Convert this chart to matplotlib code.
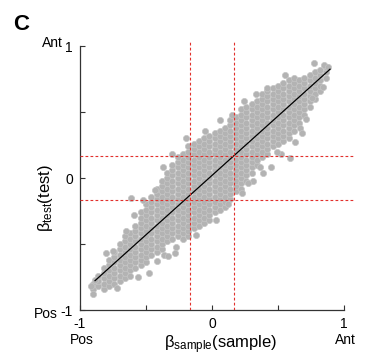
"""
Panel C: beta(test) vs beta(sample) scatter, with identity-ish fit line
and red threshold lines at +/- 0.17.
"""
import matplotlib
matplotlib.use("Agg")

import matplotlib.pyplot as plt
import numpy as np

plt.rcParams["font.family"] = ["Liberation Sans", "DejaVu Sans"]
plt.rcParams["mathtext.fontset"] = "custom"
plt.rcParams["mathtext.rm"] = "Liberation Sans"
plt.rcParams["mathtext.it"] = "Liberation Sans:italic"

# dense part of the cloud, read column by column (values in hundredths)
col_x = [-90, -86, -82, -78, -74, -70, -66, -62, -58, -54, -50, -46, -42,
         -38, -34, -30, -26, -22, -18, -14, -10, -6, -2, 2, 6, 10, 14, 18,
         22, 26, 30, 34, 38, 42, 46, 50, 54, 58, 62, 66, 70, 74, 78, 82, 86]
col_y = [
    [-84, -80],
    [-82, -78, -74],
    [-84, -80, -76, -72, -68],
    [-82, -78, -74, -70, -66, -62],
    [-80, -76, -72, -68, -64, -60, -56],
    [-78, -74, -70, -66, -62, -58, -54, -50],
    [-76, -72, -68, -64, -60, -56, -52, -48, -44],
    [-74, -70, -66, -62, -58, -54, -50, -46, -42],
    [-68, -64, -60, -56, -52, -48, -44, -40, -36],
    [-66, -62, -58, -54, -50, -46, -42, -38, -34, -30, -26],
    [-64, -60, -56, -52, -48, -44, -40, -36, -32, -28, -24, -20],
    [-58, -54, -50, -46, -42, -38, -34, -30, -26, -22, -18, -14],
    [-56, -52, -48, -44, -40, -36, -32, -28, -24, -20, -16, -12, -8],
    [-54, -50, -46, -42, -38, -34, -30, -26, -22, -18, -14, -10, -6, -2],
    [-48, -44, -40, -36, -32, -28, -24, -20, -16, -12, -8, -4, 0, 4],
    [-46, -42, -38, -34, -30, -26, -22, -18, -14, -10, -6, -2, 2, 6, 10],
    [-44, -40, -36, -32, -28, -24, -20, -16, -12, -8, -4, 0, 4, 8, 12, 16],
    [-46, -42, -38, -34, -30, -26, -22, -18, -14, -10, -6, -2, 2, 6, 10,
     14, 18],
    [-44, -40, -36, -32, -28, -24, -20, -16, -12, -8, -4, 0, 4, 8, 12, 16,
     20, 24],
    [-38, -34, -30, -26, -22, -18, -14, -10, -6, -2, 2, 6, 10, 14, 18, 22,
     26],
    [-36, -32, -28, -24, -20, -16, -12, -8, -4, 0, 4, 8, 12, 16, 20, 24, 28],
    [-34, -30, -26, -22, -18, -14, -10, -6, -2, 2, 6, 10, 14, 18, 22, 26, 30],
    [-32, -28, -24, -20, -16, -12, -8, -4, 0, 4, 8, 12, 16, 20, 24, 28, 32],
    [-26, -22, -18, -14, -10, -6, -2, 2, 6, 10, 14, 18, 22, 26, 30, 34],
    [-24, -20, -16, -12, -8, -4, 0, 4, 8, 12, 16, 20, 24, 28, 32, 36],
    [-22, -18, -14, -10, -6, -2, 2, 6, 10, 14, 18, 22, 26, 30, 34, 38],
    [-16, -12, -8, -4, 0, 4, 8, 12, 16, 20, 24, 28, 32, 36, 40, 44],
    [-10, -6, -2, 2, 6, 10, 14, 18, 22, 26, 30, 34, 38, 42, 46],
    [-8, -4, 0, 4, 8, 12, 16, 20, 24, 28, 32, 36, 40, 44, 48, 52],
    [-2, 2, 6, 10, 14, 18, 22, 26, 30, 34, 38, 42, 46, 50, 54],
    [4, 8, 12, 16, 20, 24, 28, 32, 36, 40, 44, 48, 52, 56],
    [10, 14, 18, 22, 26, 30, 34, 38, 42, 46, 50, 54, 58],
    [16, 20, 24, 28, 32, 36, 40, 44, 48, 52, 56, 60, 64],
    [18, 22, 26, 30, 34, 38, 42, 46, 50, 54, 58, 62, 66],
    [24, 28, 32, 36, 40, 44, 48, 52, 56, 60, 64, 68],
    [26, 30, 34, 38, 42, 46, 50, 54, 58, 62, 66, 70],
    [28, 32, 36, 40, 44, 48, 52, 56, 60, 64, 68, 72],
    [30, 34, 38, 42, 46, 50, 54, 58, 62, 66, 70, 74],
    [36, 40, 44, 48, 52, 56, 60, 64, 68, 72, 76],
    [42, 46, 50, 54, 58, 62, 66, 70, 74],
    [48, 52, 56, 60, 64, 68, 72, 76],
    [54, 58, 62, 66, 70, 74, 78],
    [60, 64, 68, 72, 76, 80],
    [66, 70, 74, 78, 82],
    [76, 80, 84],
]

# scattered points along the ragged edge of the cloud (hundredths)
edge_x = [77, 85, 42, 24, 84, 76, 71, 67, -5, 15, 59, 45, 39, 31, -30, -37,
          -43, 27, 23, -27, -61, -59, -75, -89, -92, -90, -72, -42, -36, -56,
          -28, 52, 63, 6, 88, -48, -33, -20, 3, 33, 55, 68, -65, -80, -52,
          -12, 12, 36, 49]
edge_y = [87, 86, 68, 58, 69, 61, 45, 38, 36, 48, 15, 8, 4, -2, 18, 8,
          -9, -4, -11, -52, -15, -28, -55, -77, -82, -88, -83, -63, -58, -75,
          -57, 18, 27, 44, 84, -72, -59, 30, -32, 64, 78, 34, -40, -57, -17,
          -43, -20, 8, 20]

# regression line and threshold
fit_slope = 0.90
fit_intercept = 0.02
fit_range = [-0.886, 0.894]
threshold = 0.17

GRAY = "#b3b3b3"
RED = "#e2302c"

xs = []
ys = []
for cx, cy in zip(col_x, col_y):
    xs += [cx] * len(cy)
    ys += cy
xs = np.array(xs + edge_x) / 100.0
ys = np.array(ys + edge_y) / 100.0

fig = plt.figure(figsize=(3.74, 3.63), dpi=100)
ax = fig.add_axes([0.2139, 0.146, 0.7342, 0.738])

ax.scatter(xs, ys, s=20, c=GRAY, edgecolors="#c4c4c4", linewidths=0.5,
           zorder=2)

fx = np.array(fit_range)
ax.plot(fx, fit_slope * fx + fit_intercept, color="black", linewidth=0.9,
        zorder=3)

for t in (-threshold, threshold):
    ax.axvline(t, color=RED, linewidth=0.8, linestyle=(0, (2.5, 2)),
               zorder=4)
    ax.axhline(t, color=RED, linewidth=0.8, linestyle=(0, (2.5, 2)),
               zorder=4)

ax.set_xlim(-1, 1.08)
ax.set_ylim(-1, 1.03)
ax.spines[["top", "right"]].set_visible(False)
for side in ("left", "bottom"):
    ax.spines[side].set_bounds(-1, 1)
    ax.spines[side].set_linewidth(0.9)
    ax.spines[side].set_color("#333333")

ticks = [-1, -0.5, 0, 0.5, 1]
labels = ["-1", "", "0", "", "1"]
ax.set_xticks(ticks)
ax.set_xticklabels(labels)
ax.set_yticks(ticks)
ax.set_yticklabels(labels)
ax.tick_params(direction="in", length=3.5, width=0.8, color="#333333",
               labelsize=10, pad=5)

ax.text(-1.21, 1.02, "Ant", fontsize=10, ha="center", va="center",
        clip_on=False)
ax.text(-1.26, -1.03, "Pos", fontsize=10, ha="center", va="center",
        clip_on=False)
ax.text(-0.985, -1.23, "Pos", fontsize=10, ha="center", va="center",
        clip_on=False)
ax.text(1.01, -1.23, "Ant", fontsize=10, ha="center", va="center",
        clip_on=False)

ax.text(-0.127, 0.418, r"$\mathrm{\beta}_{\mathrm{test}}$(test)",
        transform=ax.transAxes, rotation=90, fontsize=12, ha="center",
        va="center")
ax.text(0.513, -0.131, r"$\mathrm{\beta}_{\mathrm{sample}}$(sample)",
        transform=ax.transAxes, fontsize=12, ha="center", va="center")

fig.text(21 / 374, 1 - 24 / 363, "C", fontsize=16, fontweight="bold",
         ha="center", va="center")

fig.savefig("out.png", dpi=100, facecolor="white")
